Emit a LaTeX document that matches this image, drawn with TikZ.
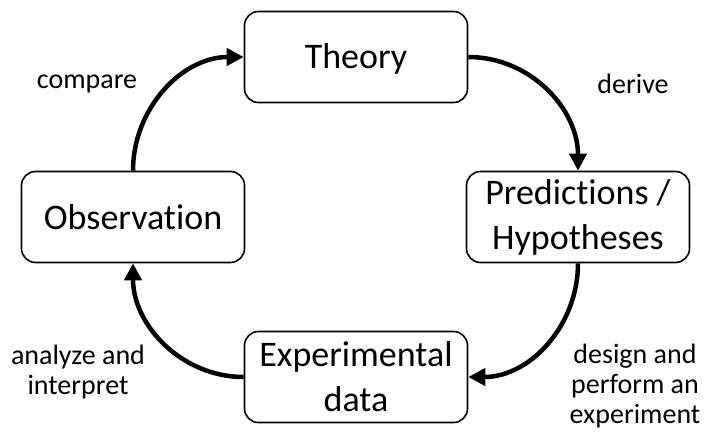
\documentclass[tikz,border=0pt]{standalone}
\usepackage{fontspec}
\setmainfont{Carlito}[Ligatures = NoCommon]
\usetikzlibrary{arrows.meta}

\begin{document}
\begin{tikzpicture}
  [x = 1pt, y = -1pt,
   stage/.style = {draw, line width = 1.6pt, rounded corners = 14pt,
     minimum width = 223pt, minimum height = 91pt, align = center,
     font = \fontsize{36}{45}\selectfont, inner sep = 0pt},
   step label/.style = {align = center, font = \fontsize{28}{30}\selectfont},
   flow/.style = {line width = 4.5pt, -{Triangle[length = 17pt, width = 17pt]}}]
  \useasboundingbox (0,0) rectangle (704,434);
  % the four stages
  \node[stage, text depth = 2pt] (theory) at (356,57) {Theory};
  \node[stage] (hyp) at (578,217) {Predictions /\\Hypotheses};
  \node[stage] (data) at (356,377) {Experimental\\data};
  \node[stage] (obs) at (133,217) {Observation};
  % arrows round the cycle
  \draw[flow] (obs.north) to[out = 90, in = 180] (theory.west);
  \draw[flow] (theory.east) to[out = 0, in = 90] (hyp.north);
  \draw[flow] (hyp.south) to[out = -90, in = 0] (data.east);
  \draw[flow] (data.west) to[out = 180, in = -90] (obs.south);
  % labels
  \node[step label] (lcompare) at (87,84) {compare};
  \node[step label] (lderive) at (633,84) {derive};
  \node[step label] (ldesign) at (635,386) {design and\\perform an\\experiment};
  \node[step label] (lanalyze) at (78,372) {analyze and\\interpret};
\end{tikzpicture}
\end{document}
